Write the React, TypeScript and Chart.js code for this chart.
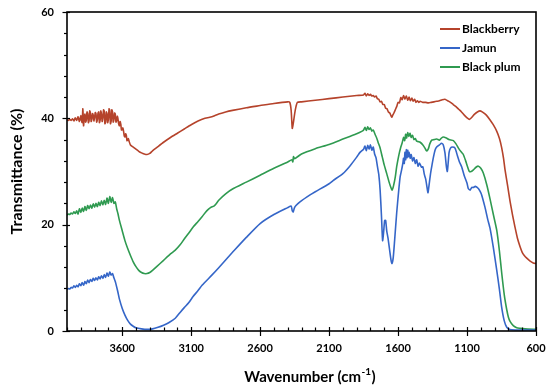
import React, { useEffect, useRef } from 'react';
import { Chart, registerables } from 'chart.js';

Chart.register(...registerables);

// ---- data ----
const X_TICKS = [3600, 3100, 2600, 2100, 1600, 1100, 600];
const Y_TICKS = [0, 20, 40, 60];
const SERIES_LABELS = ['Blackberry', 'Jamun', 'Black plum'];

// [wavenumber (cm-1), transmittance (%)]
const blackberry: [number, number][] = [
  [4000,39.7],[3990,39.6],[3980,39.8],[3970,39.6],[3960,39.9],[3950,39.5],[3940,40.1],[3930,39.6],[3920,40.3],[3910,39.4],
  [3900,40.5],[3895,39.6],[3890,39.2],[3885,41.8],[3880,38.6],[3875,40.2],[3870,40.8],[3865,39.3],[3860,39.6],[3855,41.2],
  [3850,40.9],[3845,39.2],[3840,39.5],[3835,41.4],[3830,41.0],[3825,39.4],[3820,39.8],[3815,40.9],[3810,40.6],[3805,39.5],
  [3800,40.1],[3795,41.1],[3790,40.9],[3785,39.3],[3780,39.7],[3775,41.0],[3770,41.2],[3765,39.2],[3760,39.6],[3755,41.4],
  [3750,40.8],[3745,39.4],[3740,40.0],[3735,41.6],[3730,41.3],[3725,39.0],[3720,39.3],[3715,41.2],[3710,40.9],[3705,39.2],
  [3700,39.8],[3695,41.8],[3690,41.5],[3685,39.0],[3680,39.4],[3675,41.6],[3670,41.2],[3665,39.3],[3660,39.7],[3655,41.0],
  [3650,40.8],[3645,39.3],[3640,39.6],[3635,40.4],[3630,39.8],[3625,38.9],[3620,38.6],[3615,39.4],[3610,38.9],[3605,37.8],
  [3600,37.9],[3595,38.2],[3590,37.6],[3585,36.7],[3580,36.5],[3575,37.1],[3570,36.8],[3565,35.8],[3560,35.9],[3555,36.2],
  [3550,35.7],[3540,35.0],[3520,34.6],[3500,34.2],
  [3480,33.8],[3460,33.5],[3440,33.3],[3420,33.2],[3400,33.4],[3380,33.9],[3350,34.5],[3300,35.5],[3250,36.4],[3200,37.2],
  [3150,38.0],[3100,38.8],[3050,39.5],[3000,40.0],[2950,40.3],[2930,40.5],[2900,40.8],[2850,41.2],[2800,41.5],[2700,42.0],
  [2600,42.4],[2500,42.8],[2400,43.1],[2385,43.0],[2375,41.5],[2367,38.1],[2360,39.0],[2350,40.8],[2340,42.2],[2330,43.0],
  [2300,43.1],[2200,43.4],[2100,43.7],[2000,44.0],[1900,44.3],[1850,44.4],[1840,44.7],[1830,44.2],[1820,44.6],[1810,44.3],
  [1800,44.5],[1790,44.2],[1780,44.3],[1770,44.0],[1760,44.2],[1750,43.7],[1740,43.6],[1730,43.1],[1720,43.2],[1710,42.6],
  [1700,42.6],[1690,41.9],[1680,41.8],[1670,41.2],[1660,41.0],[1650,40.4],[1645,40.2],[1640,40.5],[1630,41.0],[1620,41.6],
  [1610,42.2],[1600,43.0],[1590,42.9],[1580,43.9],[1570,43.5],[1560,44.3],[1550,43.6],[1540,44.2],[1530,43.4],[1520,44.0],
  [1510,43.3],[1500,43.8],[1490,43.2],[1480,43.6],[1470,43.0],[1460,43.3],[1450,43.0],[1440,43.2],[1420,43.0],[1400,43.0],
  [1380,42.9],[1360,43.0],[1340,43.1],[1320,43.2],[1300,43.3],[1280,43.5],[1260,43.6],[1240,43.3],[1220,43.0],[1200,42.6],
  [1180,42.2],[1160,41.7],[1140,41.2],[1120,40.6],[1100,40.1],[1083,39.8],[1065,40.2],[1045,40.8],[1025,41.2],[1006,41.4],
  [990,41.2],[960,40.6],[933,39.7],[910,38.8],[885,37.6],[865,36.2],[849,34.5],[835,32.4],[825,30.4],[805,27.2],
  [788,24.4],[770,21.8],[752,19.5],[735,17.5],[716,15.9],[700,14.8],[685,14.2],[667,13.7],[645,13.2],[620,12.8],[600,12.7],
];

const jamun: [number, number][] = [
  [4000,7.8],[3990,8.0],[3980,7.9],[3970,8.2],[3960,8.1],[3950,8.5],[3940,8.2],[3930,8.6],[3920,8.3],[3910,8.9],
  [3900,8.5],[3890,9.1],[3880,8.6],[3870,9.3],[3860,8.9],[3850,9.6],[3840,9.1],[3830,9.7],[3820,9.3],[3810,9.9],
  [3800,9.5],[3790,10.0],[3780,9.6],[3770,10.2],[3760,9.8],[3750,10.4],[3740,9.9],[3730,10.6],[3720,10.1],[3710,10.9],
  [3700,10.3],[3690,11.1],[3680,10.5],[3670,10.8],[3660,10.0],[3650,9.3],[3640,8.3],[3630,7.2],[3620,6.0],[3600,4.3],
  [3580,3.0],[3560,2.0],[3540,1.3],[3520,0.9],[3500,0.6],[3460,0.4],[3420,0.3],[3380,0.4],[3340,0.7],[3300,1.1],
  [3260,1.6],[3215,2.4],[3180,3.5],[3150,4.4],[3118,5.3],[3086,6.5],[3050,7.6],[3021,8.6],[2950,10.5],[2900,11.9],
  [2842,13.6],[2800,14.8],[2700,17.6],[2600,20.2],[2500,21.9],[2400,23.2],[2375,23.5],[2367,22.6],[2360,22.4],[2352,23.1],
  [2340,23.6],[2311,24.3],[2238,25.6],[2200,26.2],[2100,27.7],[2071,28.3],[2000,29.6],[1950,31.0],[1900,32.7],[1876,33.6],
  [1850,34.2],[1840,34.8],[1830,33.9],[1820,34.9],[1810,34.2],[1800,35.0],[1790,34.0],[1780,34.6],[1770,33.3],[1760,32.6],
  [1750,31.0],[1740,29.5],[1730,26.5],[1720,21.5],[1712,17.0],[1705,18.5],[1697,20.8],[1690,20.8],[1682,18.8],[1673,17.5],
  [1660,15.0],[1650,13.2],[1644,12.7],[1635,13.8],[1625,17.0],[1610,22.2],[1595,26.5],[1585,29.0],[1575,30.2],[1565,31.6],
  [1560,32.5],[1555,31.5],[1550,33.6],[1545,32.2],[1540,34.1],[1535,32.6],[1530,34.0],[1525,32.8],[1520,33.6],[1512,32.5],
  [1505,33.2],[1495,32.0],[1485,32.6],[1475,31.5],[1465,32.2],[1455,31.0],[1445,31.6],[1430,30.8],[1420,30.9],[1410,29.5],
  [1400,28.6],[1390,27.0],[1383,26.0],[1375,27.5],[1365,29.5],[1356,30.9],[1345,32.5],[1332,34.0],[1320,34.6],[1300,35.0],
  [1285,35.3],[1272,35.0],[1260,33.5],[1250,31.0],[1243,30.0],[1237,31.5],[1230,33.6],[1220,34.4],[1205,34.6],[1187,34.4],
  [1170,33.0],[1155,31.8],[1139,30.9],[1120,29.2],[1100,27.8],[1091,26.8],[1078,26.5],[1065,27.0],[1054,27.0],[1040,27.2],
  [1018,26.8],[1006,26.3],[994,25.6],[970,23.3],[950,21.0],[933,19.3],[910,15.8],[885,11.5],[865,7.8],[849,4.5],
  [830,1.9],[812,0.7],[790,0.3],[750,0.2],[700,0.2],[650,0.2],[600,0.2],
];

const blackPlum: [number, number][] = [
  [4000,21.8],[3990,22.0],[3980,21.9],[3970,22.2],[3960,22.0],[3950,22.4],[3940,22.1],[3930,22.6],[3920,22.0],[3910,23.0],
  [3900,22.3],[3890,23.1],[3880,22.5],[3870,23.4],[3860,22.7],[3850,23.6],[3840,23.0],[3830,23.7],[3820,23.1],[3810,23.9],
  [3800,23.3],[3790,24.0],[3780,23.4],[3770,24.2],[3760,23.6],[3750,24.5],[3740,23.7],[3730,24.6],[3720,23.8],[3710,25.0],
  [3700,24.0],[3690,25.3],[3680,24.2],[3670,25.1],[3660,24.0],[3650,24.3],[3640,23.0],[3630,22.0],[3620,20.8],[3600,18.9],
  [3580,17.0],[3560,15.5],[3540,14.2],[3520,13.0],[3500,12.1],[3480,11.4],[3460,11.0],[3440,10.8],[3420,10.8],[3400,11.0],
  [3380,11.4],[3350,12.1],[3300,13.3],[3250,14.5],[3215,15.2],[3180,16.2],[3150,17.3],[3118,18.4],[3084,19.6],[3050,20.6],
  [3021,21.5],[2987,22.6],[2960,23.2],[2935,23.5],[2920,23.9],[2900,24.6],[2850,25.8],[2800,26.7],[2700,28.0],[2600,29.3],
  [2500,30.6],[2400,31.8],[2370,32.2],[2363,31.8],[2358,32.8],[2350,32.4],[2300,33.3],[2200,34.3],[2100,35.1],[2000,36.1],
  [1950,36.6],[1900,37.1],[1860,37.6],[1850,37.8],[1840,38.3],[1830,37.7],[1820,38.4],[1810,37.9],[1800,38.2],[1790,37.6],
  [1780,37.8],[1767,37.0],[1755,36.3],[1745,35.5],[1731,34.5],[1715,32.8],[1700,31.2],[1682,29.6],[1665,28.0],[1652,27.0],
  [1643,26.5],[1633,27.3],[1620,29.0],[1610,30.9],[1595,33.0],[1580,34.6],[1570,35.4],[1560,36.4],[1552,35.8],[1545,37.0],
  [1538,36.3],[1530,37.3],[1522,36.6],[1513,37.2],[1505,36.4],[1495,36.8],[1485,36.0],[1475,36.2],[1465,35.7],[1450,35.6],
  [1440,35.5],[1420,35.0],[1405,34.4],[1397,34.0],[1390,33.9],[1380,34.3],[1370,35.2],[1356,35.9],[1340,36.0],[1320,36.1],
  [1300,35.9],[1285,36.3],[1272,36.5],[1250,36.3],[1230,36.0],[1199,35.8],[1180,35.2],[1160,34.3],[1140,33.6],[1127,33.2],
  [1110,32.0],[1095,30.8],[1083,30.0],[1070,30.0],[1054,30.3],[1035,30.8],[1018,31.0],[1000,30.6],[982,29.7],[957,27.5],
  [933,24.8],[910,22.0],[885,19.0],[865,15.0],[849,11.0],[830,6.8],[812,4.0],[800,2.6],[788,1.8],[765,1.0],
  [740,0.6],[716,0.5],[680,0.4],[600,0.3],
];

const FONT = 'Lato, "Open Sans", "DejaVu Sans", sans-serif';

const toPoints = (arr: [number, number][]) => arr.map(([x, y]) => ({ x, y }));

const framePlugin = {
  id: 'frameTicksLegend',
  afterDraw(chart: any) {
    const { ctx, chartArea } = chart;
    const { left, right, top, bottom } = chartArea;
    const xs = chart.scales.x;
    const ys = chart.scales.y;
    ctx.save();
    ctx.strokeStyle = '#000';
    // frame
    ctx.lineWidth = 1.6;
    ctx.strokeRect(left, top, right - left, bottom - top);
    ctx.lineWidth = 1.2;
    // x ticks
    for (let v = xs.max; v >= xs.min; v -= 100) {
      const px = Math.round(xs.getPixelForValue(v)) + 0.5;
      const major = X_TICKS.includes(v);
      ctx.beginPath();
      if (major) {
        ctx.moveTo(px, bottom - 4);
        ctx.lineTo(px, bottom + 5);
      } else {
        ctx.moveTo(px, bottom - 3.5);
        ctx.lineTo(px, bottom);
      }
      ctx.stroke();
    }
    // y ticks
    for (let v = ys.min; v <= ys.max; v += 4) {
      const py = Math.round(ys.getPixelForValue(v)) + 0.5;
      const major = Y_TICKS.includes(v);
      ctx.beginPath();
      if (major) {
        ctx.moveTo(left - 4.5, py);
        ctx.lineTo(left + 3, py);
      } else {
        ctx.moveTo(left - 3, py);
        ctx.lineTo(left, py);
      }
      ctx.stroke();
    }
    // x axis title with superscript
    const cx = (left + right) / 2 + 8;
    const cy = bottom + 46;
    ctx.fillStyle = '#000';
    ctx.textBaseline = 'middle';
    const mainFont = `bold 15px ${FONT}`;
    const supFont = `bold 10px ${FONT}`;
    const t1 = 'Wavenumber (cm';
    const t2 = '-1';
    const t3 = ')';
    ctx.font = mainFont;
    const w1 = ctx.measureText(t1).width;
    const w3 = ctx.measureText(t3).width;
    ctx.font = supFont;
    const w2 = ctx.measureText(t2).width;
    let x0 = cx - (w1 + w2 + w3) / 2;
    ctx.textAlign = 'left';
    ctx.font = mainFont;
    ctx.fillText(t1, x0, cy);
    ctx.font = supFont;
    ctx.fillText(t2, x0 + w1 + 0.5, cy - 5);
    ctx.font = mainFont;
    ctx.fillText(t3, x0 + w1 + w2 + 1, cy);
    // legend
    ctx.font = `bold 12px ${FONT}`;
    chart.data.datasets.forEach((ds: any, i: number) => {
      const ly = top + 17 + i * 19;
      const lx = right - 96;
      ctx.strokeStyle = ds.borderColor;
      ctx.lineWidth = 2;
      ctx.beginPath();
      ctx.moveTo(lx, ly);
      ctx.lineTo(lx + 20, ly);
      ctx.stroke();
      ctx.fillStyle = '#000';
      ctx.fillText(ds.label, lx + 22, ly);
    });
    ctx.restore();
  },
};

export default function App() {
  const ref = useRef<HTMLCanvasElement | null>(null);
  useEffect(() => {
    document.body.style.margin = '0';
    if (!ref.current) return;
    const chart = new Chart(ref.current, {
      type: 'line',
      data: {
        datasets: [
          { label: SERIES_LABELS[0], data: toPoints(blackberry), borderColor: '#B5432B', borderWidth: 1.6, pointRadius: 0, tension: 0.2 },
          { label: SERIES_LABELS[1], data: toPoints(jamun), borderColor: '#3566C8', borderWidth: 1.6, pointRadius: 0, tension: 0.2 },
          { label: SERIES_LABELS[2], data: toPoints(blackPlum), borderColor: '#2F9A50', borderWidth: 1.6, pointRadius: 0, tension: 0.2 },
        ],
      },
      options: {
        responsive: false,
        animation: false,
        layout: { padding: { top: 12, right: 14, left: 0, bottom: 0 } },
        plugins: { legend: { display: false }, tooltip: { enabled: false } },
        scales: {
          x: {
            type: 'linear',
            reverse: true,
            min: 600,
            max: 4000,
            grid: { display: false, drawTicks: false },
            border: { display: false },
            afterBuildTicks: (scale: any) => {
              scale.ticks = X_TICKS.map((v) => ({ value: v }));
            },
            afterFit: (scale: any) => {
              scale.height = 58;
              scale.paddingLeft = 0;
              scale.paddingRight = 0;
            },
            ticks: {
              autoSkip: false,
              maxRotation: 0,
              padding: 11,
              color: '#000',
              font: { family: FONT, size: 11, weight: 'bold' },
              callback: (v: any) => String(v),
            },
          },
          y: {
            type: 'linear',
            min: 0,
            max: 60,
            grid: { display: false, drawTicks: false },
            border: { display: false },
            afterBuildTicks: (scale: any) => {
              scale.ticks = Y_TICKS.map((v) => ({ value: v }));
            },
            afterFit: (scale: any) => {
              scale.width = 67;
              scale.paddingTop = 0;
              scale.paddingBottom = 0;
            },
            ticks: {
              padding: 13,
              color: '#000',
              font: { family: FONT, size: 11, weight: 'bold' },
            },
            title: {
              display: true,
              text: 'Transmittance (%)',
              color: '#000',
              font: { family: FONT, size: 16, weight: 'bold' },
              padding: { top: 7, bottom: 0 },
            },
          },
        },
      },
      plugins: [framePlugin],
    });
    return () => chart.destroy();
  }, []);
  return (
    <div style={{ position: 'absolute', left: 0, top: 0, width: 550, height: 389, background: '#fff' }}>
      <canvas ref={ref} width={550} height={389} style={{ display: 'block' }} />
    </div>
  );
}
